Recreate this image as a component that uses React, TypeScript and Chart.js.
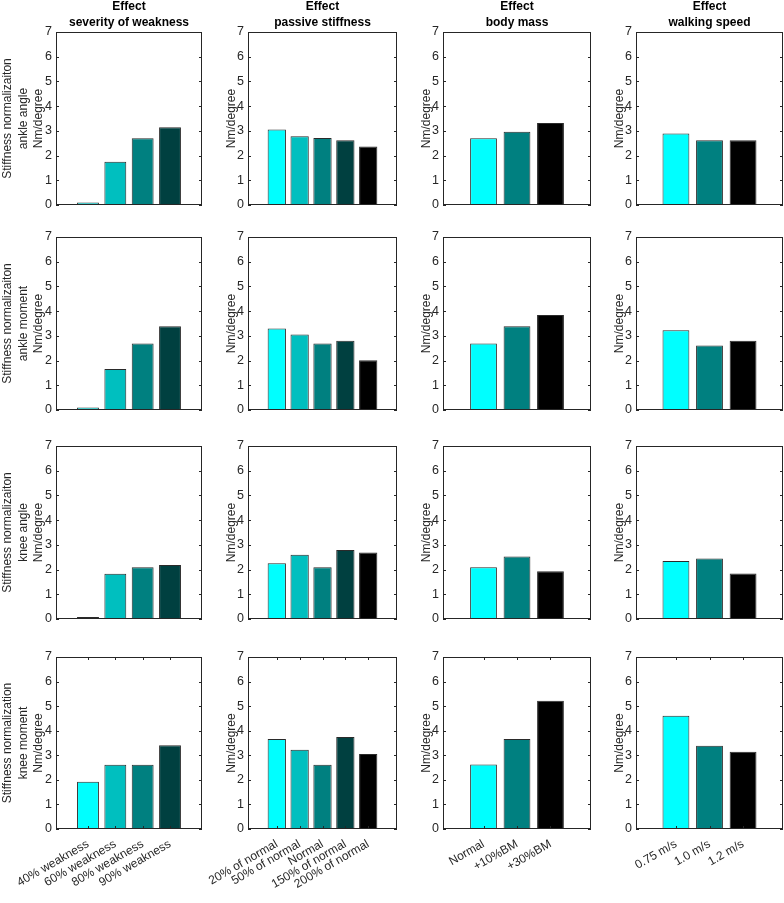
import React, { useEffect, useRef } from 'react';
import { Chart, registerables } from 'chart.js';

Chart.register(...registerables);

const FONT = '"Liberation Sans", Arial, Helvetica, sans-serif';

// ---- categories / tick labels ----
const severityCategories = ['40% weakness', '60% weakness', '80% weakness', '90% weakness'];
const stiffnessCategories = ['20% of normal', '50% of normal', 'Normal', '150% of normal', '200% of normal'];
const massCategories = ['Normal', '+10%BM', '+30%BM'];
const speedCategories = ['0.75 m/s', '1.0 m/s', '1.2 m/s'];
const yTickValues = [0, 1, 2, 3, 4, 5, 6, 7];

const columnTitles = ['severity of weakness', 'passive stiffness', 'body mass', 'walking speed'];
const rowPrefixes = ['Stiffness normalizaiton', 'Stiffness normalizaiton', 'Stiffness normalizaiton', 'Stiffness normalization'];
const rowNames = ['ankle angle', 'ankle moment', 'knee angle', 'knee moment'];
const unitLabel = 'Nm/degree';

// ---- series values ----
const ankleAngleSeverity = [0.1, 1.75, 2.7, 3.15];
const ankleAngleStiffness = [3.05, 2.78, 2.71, 2.62, 2.37];
const ankleAngleMass = [2.7, 2.96, 3.32];
const ankleAngleSpeed = [2.89, 2.62, 2.62];

const ankleMomentSeverity = [0.1, 1.66, 2.69, 3.39];
const ankleMomentStiffness = [3.3, 3.05, 2.69, 2.8, 2.01];
const ankleMomentMass = [2.69, 3.39, 3.84];
const ankleMomentSpeed = [3.23, 2.61, 2.8];

const kneeAngleSeverity = [0.08, 1.83, 2.09, 2.18];
const kneeAngleStiffness = [2.26, 2.6, 2.09, 2.79, 2.69];
const kneeAngleMass = [2.09, 2.53, 1.93];
const kneeAngleSpeed = [2.35, 2.45, 1.84];

const kneeMomentSeverity = [1.92, 2.61, 2.61, 3.41];
const kneeMomentStiffness = [3.66, 3.23, 2.61, 3.74, 3.05];
const kneeMomentMass = [2.62, 3.66, 5.22];
const kneeMomentSpeed = [4.61, 3.39, 3.14];

// ---- colours ----
const severityColors = ['#00FFFF', '#00BFBF', '#008080', '#004040'];
const stiffnessColors = ['#00FFFF', '#00BFBF', '#008080', '#004040', '#000000'];
const threeColors = ['#00FFFF', '#008080', '#000000'];

const columnCategories = [severityCategories, stiffnessCategories, massCategories, speedCategories];
const columnColors = [severityColors, stiffnessColors, threeColors, threeColors];
const rowValues = [
  [ankleAngleSeverity, ankleAngleStiffness, ankleAngleMass, ankleAngleSpeed],
  [ankleMomentSeverity, ankleMomentStiffness, ankleMomentMass, ankleMomentSpeed],
  [kneeAngleSeverity, kneeAngleStiffness, kneeAngleMass, kneeAngleSpeed],
  [kneeMomentSeverity, kneeMomentStiffness, kneeMomentMass, kneeMomentSpeed],
];

// ---- layout (pixels) ----
const COL_L = [56, 248, 443, 636];
const COL_R = [202, 397, 591, 783];
const COL_YW = [56, 46, 46, 46];
const COL_MARGIN = [1.17, 1.26, 1.21, 1.19];
const ROW_T = [32, 237, 446, 657];
const ROW_B = [205, 410, 619, 829];

const framePlugin = {
  id: 'frame',
  afterDatasetsDraw(chart: any, _args: any, opts: any) {
    const { ctx, chartArea: a, scales } = chart;
    ctx.save();
    ctx.strokeStyle = '#262626';
    ctx.lineWidth = 1;
    ctx.strokeRect(a.left + 0.5, a.top + 0.5, a.right - a.left - 1, a.bottom - a.top - 1);
    ctx.beginPath();
    const ys = scales.y;
    for (const t of ys.ticks) {
      const py = Math.round(ys.getPixelForValue(t.value)) + 0.5;
      ctx.moveTo(a.left, py);
      ctx.lineTo(a.left + 3, py);
      ctx.moveTo(a.right, py);
      ctx.lineTo(a.right - 3, py);
    }
    if (opts && opts.xTicks) {
      const xs = scales.x;
      for (const t of xs.ticks) {
        const px = Math.round(xs.getPixelForValue(t.value)) + 0.5;
        ctx.moveTo(px, a.top);
        ctx.lineTo(px, a.top + 3);
        ctx.moveTo(px, a.bottom);
        ctx.lineTo(px, a.bottom - 3);
      }
    }
    ctx.stroke();
    ctx.restore();
  },
};

function Panel({ r, c }: { r: number; c: number }) {
  const ref = useRef<HTMLCanvasElement>(null);
  const yw = COL_YW[c];
  const tp = r === 0 ? 33 : 12;
  const xh = r === 3 ? 74 : 10;
  const left = COL_L[c] - yw;
  const top = ROW_T[r] - tp;
  const width = yw + COL_R[c] - COL_L[c] + 1;
  const height = tp + ROW_B[r] - ROW_T[r] + xh;

  useEffect(() => {
    const cats = columnCategories[c];
    const vals = rowValues[r][c];
    const cols = columnColors[c];
    const margin = COL_MARGIN[c];
    const yTitle = c === 0 ? [rowPrefixes[r], rowNames[r], unitLabel] : unitLabel;
    const chart = new Chart(ref.current as HTMLCanvasElement, {
      type: 'bar',
      data: {
        datasets: [
          {
            data: vals.map((v, i) => ({ x: i + 1, y: v })),
            backgroundColor: cols,
            borderColor: '#2a2a2a',
            borderWidth: 1,
            borderSkipped: false,
            categoryPercentage: 1,
            barPercentage: 0.8,
          } as any,
        ],
      },
      options: {
        animation: false,
        responsive: false,
        maintainAspectRatio: false,
        devicePixelRatio: 1,
        layout: { padding: { left: 0, right: 1, top: r === 0 ? 0 : 12, bottom: 0 } },
        plugins: {
          legend: { display: false },
          tooltip: { enabled: false },
          title: {
            display: r === 0,
            text: ['Effect', columnTitles[c]],
            color: '#000000',
            font: { family: FONT, size: 12, weight: 'bold', lineHeight: 16 / 12 },
            padding: { top: 0, bottom: 1 },
            fullSize: false,
          },
          frame: { xTicks: r === 3 },
        } as any,
        scales: {
          x: {
            type: 'linear',
            min: 1 - margin,
            max: cats.length + margin,
            offset: false,
            grid: { display: false, drawTicks: false },
            border: { display: false },
            afterBuildTicks: (s: any) => {
              s.ticks = cats.map((_, i) => ({ value: i + 1 }));
            },
            afterFit: (s: any) => {
              s.height = xh;
              s.paddingLeft = 0;
              s.paddingRight = 0;
              s.paddingTop = 0;
              s.paddingBottom = 0;
            },
            ticks: {
              display: r === 3,
              autoSkip: false,
              minRotation: 30,
              maxRotation: 30,
              padding: 8,
              color: '#262626',
              font: { family: FONT, size: 12 },
              callback: (v: any) => cats[Math.round(Number(v)) - 1] ?? '',
            },
          },
          y: {
            type: 'linear',
            min: 0,
            max: 7,
            grid: { display: false, drawTicks: false },
            border: { display: false },
            afterBuildTicks: (s: any) => {
              s.ticks = yTickValues.map((v) => ({ value: v }));
            },
            afterFit: (s: any) => {
              s.width = yw;
              s.paddingLeft = 0;
              s.paddingRight = 0;
              s.paddingTop = 0;
              s.paddingBottom = 0;
            },
            ticks: {
              padding: 4,
              color: '#262626',
              font: { family: FONT, size: 12.5 },
              callback: (v: any) => String(v),
            },
            title: {
              display: true,
              text: yTitle,
              color: '#262626',
              font: { family: FONT, size: 12, lineHeight: 1.3 },
              padding: { top: c === 0 ? 0 : yw - 16.5 - 7.8, bottom: 0 },
            },
          },
        },
      } as any,
      plugins: [framePlugin as any],
    });
    return () => chart.destroy();
  }, [r, c]);

  return (
    <canvas
      ref={ref}
      width={width}
      height={height}
      style={{ position: 'absolute', left, top, width, height }}
    />
  );
}

export default function App() {
  const panels = [];
  for (let r = 0; r < 4; r++) {
    for (let c = 0; c < 4; c++) {
      panels.push(<Panel key={`${r}-${c}`} r={r} c={c} />);
    }
  }
  return (
    <div style={{ position: 'absolute', left: 0, top: 0, width: 784, height: 903, background: '#ffffff', overflow: 'hidden' }}>
      {panels}
    </div>
  );
}
